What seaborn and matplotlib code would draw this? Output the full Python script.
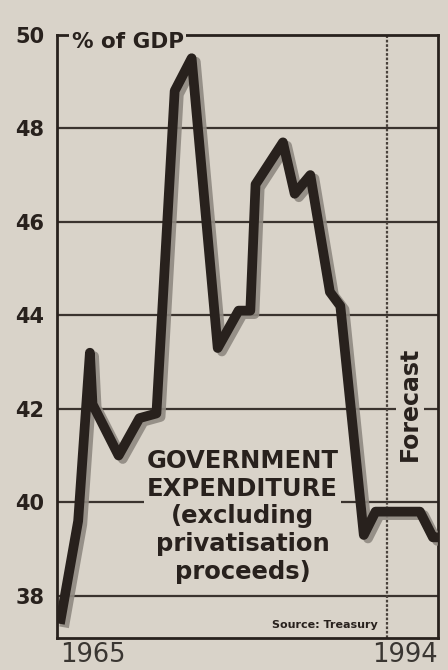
import matplotlib
matplotlib.use("Agg")
import matplotlib.pyplot as plt
import matplotlib.patheffects as pe
import seaborn as sns
import pandas as pd

# data (x = year position, y = % of GDP)
year_pos = [1965.0, 1966.4, 1967.3, 1967.5, 1969.5, 1971.1, 1972.4, 1973.8,
            1975.1, 1977.1, 1978.7, 1979.6, 1980.0, 1980.7, 1982.1, 1983.0,
            1984.2, 1985.7, 1986.5, 1988.3, 1989.2, 1992.6, 1993.6, 1994.0]
spending = [37.4, 39.6, 43.2, 42.1, 41.0, 41.8, 41.9, 48.8,
            49.5, 43.3, 44.1, 44.1, 46.8, 47.1, 47.7, 46.6,
            47.0, 44.5, 44.2, 39.3, 39.8, 39.8, 39.25, 39.25]
y_ticks = [38, 40, 42, 44, 46, 48, 50]
x_labels = [1965, 1994]
forecast_start = 1990.1

paper = "#d9d3c9"
ink = "#28211d"

sns.set_style("white")
plt.rcParams['font.family'] = ['DejaVu Sans']

df = pd.DataFrame({"year": year_pos, "pct": spending})

fig = plt.figure(figsize=(4.48, 6.7), dpi=100, facecolor=paper)
ax = fig.add_axes([0.127, 0.048, 0.851, 0.9])
ax.set_facecolor(paper)

# horizontal grid
for v in y_ticks[:-1]:
    ax.axhline(v, color="#3a332e", lw=1.6, zorder=1)

# forecast divider
ax.axvline(forecast_start, color="#4a423c", lw=1.6, ls=(0, (1.2, 0.8)), zorder=1)

sns.lineplot(data=df, x="year", y="pct", ax=ax, color=ink, lw=7,
             sort=False, zorder=5, solid_joinstyle="round", solid_capstyle="butt",
             path_effects=[pe.SimpleLineShadow(offset=(3, -2.5), shadow_color="#8f8981", alpha=0.9),
                           pe.Normal()])

ax.set_xlim(1964.77, 1994.0)
ax.set_ylim(37.1, 50)
ax.set_yticks(y_ticks)
ax.set_yticklabels([str(v) for v in y_ticks], fontsize=15, fontweight="heavy", color=ink)
ax.set_xticks(x_labels)
ax.set_xticklabels([str(v) for v in x_labels], fontsize=18.5, color="#3a3632")
xl = ax.get_xticklabels()
xl[0].set_ha("left")
xl[1].set_ha("right")
ax.tick_params(axis="both", length=0)
ax.tick_params(axis="y", pad=9)
ax.tick_params(axis="x", pad=3)
ax.set_xlabel("")
ax.set_ylabel("")
for s in ax.spines.values():
    s.set_color(ink)
    s.set_linewidth(2)
    s.set_visible(True)

box = dict(facecolor=paper, edgecolor="none", pad=1.5)
ax.text(1965.9, 49.85, "% of GDP", ha="left", va="center", fontsize=15.5,
        fontweight="heavy", color=ink, bbox=dict(facecolor=paper, edgecolor="none", pad=2), zorder=6)

ax.text(1979.0, 39.7, "GOVERNMENT\nEXPENDITURE\n(excluding\nprivatisation\nproceeds)",
        ha="center", va="center", fontsize=17.5, fontweight="heavy", color=ink,
        linespacing=1.2, bbox=box, zorder=3)

ax.text(1991.85, 42.1, "Forecast", rotation=90, ha="center", va="center",
        fontsize=17, fontweight="heavy", color=ink, bbox=box, zorder=3)

ax.text(1989.4, 37.37, "Source: Treasury", ha="right", va="center",
        fontsize=8, fontweight="bold", color=ink, zorder=3)

fig.savefig("out.png", dpi=100, facecolor=paper)
